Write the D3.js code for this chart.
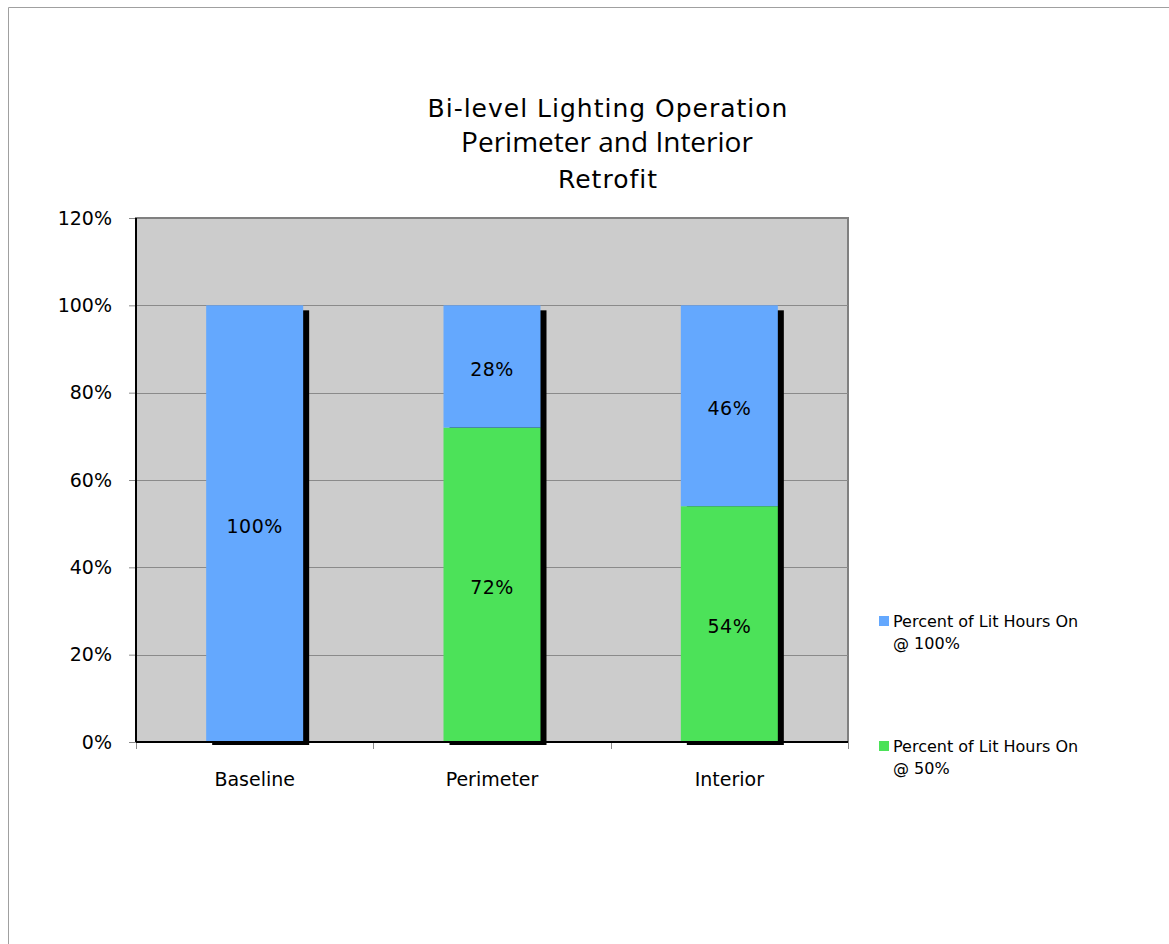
<!DOCTYPE html>
<html>
<head>
  <style>
    body, html { margin: 0; padding: 0; background: #fff; }
    svg { display: block; }
    text { font-family: "DejaVu Sans", sans-serif; fill: #000; }
  </style>
</head>
<body>
  <svg id="svg" width="1169" height="944"></svg>
  <script src="https://d3js.org/d3.v7.min.js"></script>
  <script>
    const categories = ["Baseline", "Perimeter", "Interior"]
    const seriesNames = ["Percent of Lit Hours On @ 50%", "Percent of Lit Hours On @ 100%"]
    const at50 = [0, 72, 54]
    const at100 = [100, 28, 46]
    const yTicks = [0, 20, 40, 60, 80, 100, 120]
    const colors = ["#4ce259", "#64a8fe"]

    const svg = d3.select("#svg")

    // outer frame
    svg.append("path")
      .attr("d", "M8.5,944 L8.5,7.5 L1169,7.5")
      .attr("fill", "none").attr("stroke", "#a0a0a0").attr("stroke-width", 1)

    const plotL = 136, plotR = 848, plotT = 218, plotB = 742

    const x = d3.scaleBand().domain(categories).range([plotL, plotR])
    const y = d3.scaleLinear().domain([0, 120]).range([plotB, plotT])
    const barW = 97

    // plot area
    svg.append("rect")
      .attr("x", plotL).attr("y", plotT)
      .attr("width", plotR - plotL).attr("height", plotB - plotT)
      .attr("fill", "#cccccc").attr("stroke", "#808080").attr("stroke-width", 2)

    // gridlines
    svg.append("g").selectAll("line").data(yTicks.filter(t => t > 0 && t < 120)).join("line")
      .attr("x1", plotL).attr("x2", plotR)
      .attr("y1", d => Math.round(y(d)) + 0.5).attr("y2", d => Math.round(y(d)) + 0.5)
      .attr("stroke", "#8a8a8a")

    const stack = d3.stack().keys([0, 1]).value((d, k) => d[k])
    const rows = categories.map((c, i) => [at50[i], at100[i]])
    const layers = stack(rows)

    // shadows
    svg.append("g").selectAll("rect").data(categories).join("rect")
      .attr("x", d => x(d) + (x.bandwidth() - barW) / 2 + 6)
      .attr("y", y(100) + 5)
      .attr("width", barW).attr("height", y(0) - y(100) - 2)
      .attr("fill", "#000")

    // bars
    layers.forEach((layer, k) => {
      svg.append("g").selectAll("rect").data(layer).join("rect")
        .attr("x", (d, i) => x(categories[i]) + (x.bandwidth() - barW) / 2)
        .attr("y", d => y(d[1]))
        .attr("width", barW)
        .attr("height", d => y(d[0]) - y(d[1]))
        .attr("fill", colors[k])
    })

    // value labels
    layers.forEach((layer, k) => {
      const items = layer.map((d, i) => ({ lo: d[0], hi: d[1], cat: categories[i] }))
        .filter(d => d.hi - d.lo > 0)
      svg.append("g").selectAll("text").data(items).join("text")
        .attr("x", d => x(d.cat) + x.bandwidth() / 2)
        .attr("y", d => y((d.lo + d.hi) / 2))
        .attr("dy", "0.48em")
        .attr("text-anchor", "middle")
        .attr("font-size", 19)
        .attr("letter-spacing", 0.5)
        .text(d => (d.hi - d.lo) + "%")
    })

    // y axis
    const yAxis = d3.axisLeft(y).tickValues(yTicks).tickSize(7).tickFormat(d => d + "%")
    const ga = svg.append("g").attr("transform", `translate(${plotL},0)`).call(yAxis)
    ga.select(".domain").remove()
    ga.selectAll(".tick line").attr("stroke", "#8a8a8a")
    ga.selectAll(".tick text").attr("font-size", 19).attr("x", -24)
      .attr("font-family", "DejaVu Sans").attr("fill", "#000")
    svg.append("line").attr("x1", plotL).attr("x2", plotL).attr("y1", plotT).attr("y2", plotB)
      .attr("stroke", "#000").attr("stroke-width", 2)

    // x axis
    const xAxis = d3.axisBottom(x).tickSize(0)
    const gx = svg.append("g").attr("transform", `translate(0,${plotB})`).call(xAxis)
    gx.select(".domain").remove()
    gx.selectAll(".tick text").attr("font-size", 19).attr("y", 31)
      .attr("font-family", "DejaVu Sans").attr("fill", "#000")
    const bounds = [plotL].concat(categories.map(c => x(c) + x.bandwidth()))
    svg.append("g").selectAll("line").data(bounds).join("line")
      .attr("x1", d => Math.round(d) + 0.5).attr("x2", d => Math.round(d) + 0.5)
      .attr("y1", plotB).attr("y2", plotB + 7)
      .attr("stroke", "#8a8a8a")
    svg.append("line").attr("x1", plotL).attr("x2", plotR).attr("y1", plotB).attr("y2", plotB)
      .attr("stroke", "#000").attr("stroke-width", 2)

    // title
    const title = svg.append("g").attr("text-anchor", "middle")
    title.append("text").attr("x", 608).attr("y", 117).attr("font-size", 25)
      .attr("letter-spacing", 1).text("Bi-level Lighting Operation")
    title.append("text").attr("x", 607).attr("y", 152).attr("font-size", 28)
      .style("font-family", "'Open Sans', sans-serif").text("Perimeter and Interior")
    title.append("text").attr("x", 608).attr("y", 188).attr("font-size", 25)
      .attr("letter-spacing", 1).text("Retrofit")

    // legend
    const legendItems = [
      { color: colors[1], lines: ["Percent of Lit Hours On", "@ 100%"], y: 616 },
      { color: colors[0], lines: ["Percent of Lit Hours On", "@ 50%"], y: 741 }
    ]
    const lg = svg.append("g").selectAll("g").data(legendItems).join("g")
      .attr("transform", d => `translate(879,${d.y})`)
    lg.append("rect").attr("width", 10).attr("height", 10).attr("fill", d => d.color)
    lg.append("text").attr("x", 14).attr("y", 11).attr("font-size", 16)
      .selectAll("tspan").data(d => d.lines).join("tspan")
      .attr("x", 14).attr("dy", (d, i) => i ? 22 : 0).text(d => d)
  </script>
</body>
</html>
